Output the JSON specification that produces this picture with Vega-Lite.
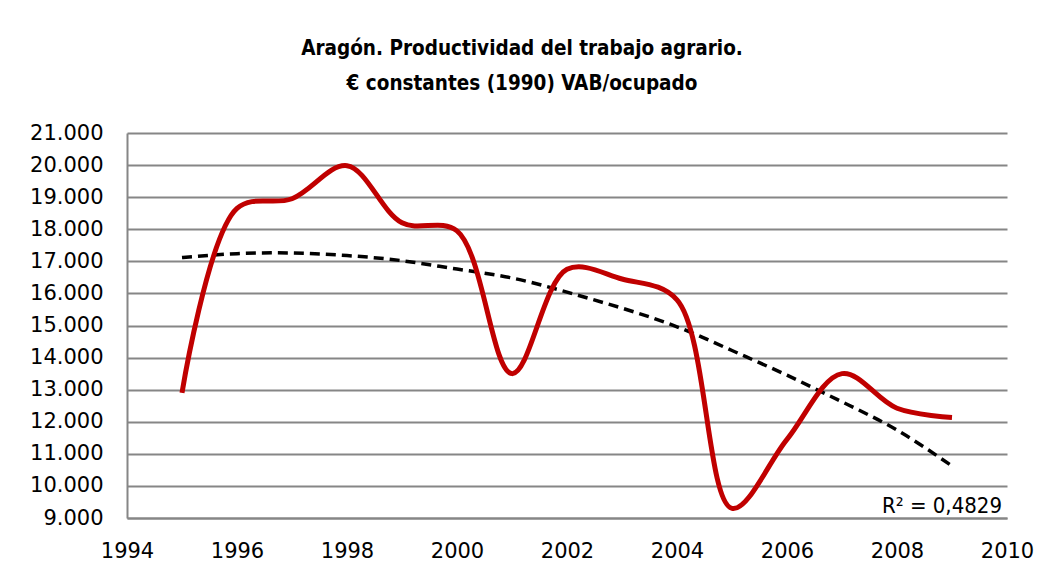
{
  "$schema": "https://vega.github.io/schema/vega-lite/v6.json",
  "width": 880,
  "height": 385,
  "autosize": "none",
  "padding": {"left": 127, "top": 133, "right": 41, "bottom": 59},
  "background": "white",
  "config": {
    "locale": {"number": {"decimal": ",", "thousands": ".", "grouping": [3], "currency": ["", " €"]}},
    "view": {"stroke": null}
  },
  "title": {
    "text": ["Aragón. Productividad del trabajo agrario.", "€ constantes (1990) VAB/ocupado"],
    "font": "DejaVu Sans Condensed",
    "fontWeight": "bold",
    "fontSize": 20.5,
    "lineHeight": 35,
    "color": "black",
    "anchor": "middle",
    "dx": -45,
    "offset": 28
  },
  "datasets": {
    "prod": [
      {"year": 1995, "value": 12900},
      {"year": 1996, "value": 18650},
      {"year": 1997, "value": 18950},
      {"year": 1998, "value": 19980},
      {"year": 1999, "value": 18200},
      {"year": 2000, "value": 17950},
      {"year": 2001, "value": 13500},
      {"year": 2002, "value": 16750},
      {"year": 2003, "value": 16450},
      {"year": 2004, "value": 15800},
      {"year": 2005, "value": 9300},
      {"year": 2006, "value": 11450},
      {"year": 2007, "value": 13500},
      {"year": 2008, "value": 12420},
      {"year": 2009, "value": 12130}
    ],
    "trend": [
      {"year": 1995, "value": 17120},
      {"year": 1996, "value": 17240},
      {"year": 1997, "value": 17260},
      {"year": 1998, "value": 17180},
      {"year": 1999, "value": 17020},
      {"year": 2000, "value": 16760},
      {"year": 2001, "value": 16480},
      {"year": 2002, "value": 16040},
      {"year": 2003, "value": 15540},
      {"year": 2004, "value": 14960},
      {"year": 2005, "value": 14220},
      {"year": 2006, "value": 13450},
      {"year": 2007, "value": 12620},
      {"year": 2008, "value": 11740},
      {"year": 2009, "value": 10620}
    ]
  },
  "encoding": {
    "x": {
      "field": "year",
      "type": "quantitative",
      "scale": {"domain": [1994, 2010], "nice": false, "zero": false},
      "axis": {
        "values": [1994, 1996, 1998, 2000, 2002, 2004, 2006, 2008, 2010],
        "format": "d",
        "title": null,
        "grid": false,
        "ticks": false,
        "domainColor": "#868686",
        "domainWidth": 2,
        "labelFont": "DejaVu Sans",
        "labelFontSize": 21,
        "labelColor": "black",
        "labelPadding": 22,
        "labelFlush": false
      }
    },
    "y": {
      "field": "value",
      "type": "quantitative",
      "scale": {"domain": [9000, 21000], "nice": false, "zero": false},
      "axis": {
        "values": [9000, 10000, 11000, 12000, 13000, 14000, 15000, 16000, 17000, 18000, 19000, 20000, 21000],
        "format": ",d",
        "title": null,
        "grid": true,
        "gridColor": "#868686",
        "gridWidth": 2,
        "ticks": false,
        "domainColor": "#868686",
        "domainWidth": 2,
        "labelFont": "DejaVu Sans",
        "labelFontSize": 21,
        "labelColor": "black",
        "labelPadding": 24
      }
    }
  },
  "layer": [
    {
      "data": {"name": "trend"},
      "mark": {"type": "line", "color": "black", "strokeWidth": 3.5, "strokeDash": [10, 6], "interpolate": "natural"}
    },
    {
      "data": {"name": "prod"},
      "mark": {"type": "line", "color": "#C00000", "strokeWidth": 5, "interpolate": "catmull-rom"}
    },
    {
      "data": {"name": "trend"},
      "transform": [{"filter": "datum.year == 2009"}],
      "mark": {"type": "text", "align": "right", "baseline": "alphabetic", "dx": 50, "dy": 47, "font": "DejaVu Sans Condensed", "fontSize": 22, "color": "black"},
      "encoding": {"text": {"value": "R² = 0,4829"}}
    }
  ]
}
